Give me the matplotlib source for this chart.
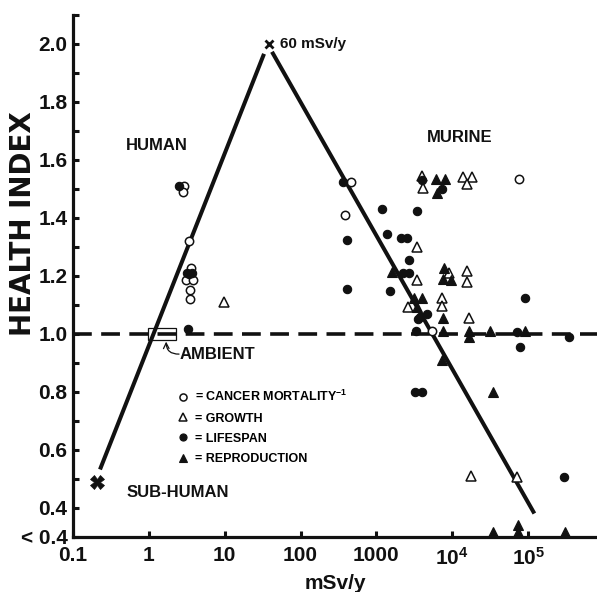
import matplotlib
matplotlib.use("Agg")
import matplotlib.pyplot as plt
from matplotlib.patches import Rectangle

plt.rcParams['font.family'] = ['Liberation Sans', 'DejaVu Sans']
plt.rcParams['font.weight'] = 'bold'
plt.rcParams['mathtext.fontset'] = 'custom'
for k in ['rm', 'it', 'bf', 'sf']:
    plt.rcParams['mathtext.' + k] = 'Liberation Sans:bold'
plt.rcParams['mathtext.default'] = 'rm'

# ---------------- data ----------------
cancer_x = [2.95, 2.8, 3.39, 3.6, 3.1, 3.83, 3.5, 3.5, 465, 387, 5450, 76600]
cancer_y = [1.51, 1.49, 1.32, 1.228, 1.185, 1.185, 1.15, 1.12, 1.524, 1.41, 1.01, 1.535]

growth_x = [9.8, 4020, 4150, 13960, 18400, 15800, 3450, 3450, 9100, 15800, 15800,
            2630, 7380, 7380, 16700, 17800, 72000]
growth_y = [1.111, 1.545, 1.503, 1.542, 1.542, 1.517, 1.30, 1.187, 1.211, 1.218, 1.178,
            1.093, 1.125, 1.097, 1.055, 0.51, 0.505]

lifespan_x = [2.5, 3.19, 3.71, 3.39, 3.29, 365, 4020, 7380, 1190, 3450, 412, 1390, 2120,
              2550, 2710, 2260, 2710, 412, 1520, 4680, 3780, 3560, 3350, 72000, 91800,
              78900, 3.5e5, 3250, 4020, 3.0e5]
lifespan_y = [1.51, 1.21, 1.21, 1.205, 1.017, 1.524, 1.531, 1.499, 1.432, 1.425, 1.323,
              1.344, 1.33, 1.33, 1.253, 1.211, 1.211, 1.156, 1.149, 1.069, 1.059, 1.052,
              1.01, 1.007, 1.125, 0.956, 0.99, 0.80, 0.80, 0.505]

repro_x = [6150, 8080, 6340, 1620, 7830, 7600, 9700, 3160, 4020, 3450, 7600, 7600, 16700,
           16700, 31000, 91800, 7380, 34800, 34800, 74300, 74300, 3.1e5]
repro_y = [1.535, 1.535, 1.485, 1.215, 1.228, 1.19, 1.187, 1.125, 1.125, 1.093, 1.055,
           1.01, 1.01, 0.99, 1.01, 1.01, 0.91, 0.80, 0.317, 0.34, 0.317, 0.317]

# fitted response lines
left_x = [0.227, 33]
left_y = [0.532, 1.966]
right_x = [42, 1.21e5]
right_y = [1.973, 0.38]
peak_x, peak_y = 38, 2.0
sub_x, sub_y = 0.207, 0.49
ambient_level = 1.0
amb_box_x = [0.976, 2.29]
amb_box_y = [0.98, 1.02]

xticks = [0.1, 1, 10, 100, 1000, 1e4, 1e5]
xticklabels = ['0.1', '1', '10', '100', '1000', r'10$^{4}$', r'10$^{5}$']
yticks = [0.3 + 0.1 * i for i in range(19)]
ylabels_map = {0.3: '< 0.4', 0.4: '0.4', 0.6: '0.6', 0.8: '0.8', 1.0: '1.0', 1.2: '1.2',
               1.4: '1.4', 1.6: '1.6', 1.8: '1.8', 2.0: '2.0'}

# ---------------- figure ----------------
W, H = 597, 592
fig = plt.figure(figsize=(W / 100, H / 100), dpi=100)
ax = fig.add_axes([73 / W, 55.3 / H, 524 / W, 521.7 / H])
ax.set_xscale('log')
ax.set_xlim(0.1, 8.1e5)
ax.set_ylim(0.3, 2.1)

K = '#111111'
ax.plot(left_x, left_y, color=K, lw=2.9, solid_capstyle='butt', zorder=2)
ax.plot(right_x, right_y, color=K, lw=2.9, solid_capstyle='butt', zorder=2)
ax.axhline(ambient_level, color=K, lw=2.6, dashes=(5.2, 2.6), zorder=2)

ax.plot([peak_x], [peak_y], marker='x', color=K, ms=6, mew=2, zorder=4)
ax.plot([sub_x], [sub_y], marker='X', color=K, ms=10, mew=0.5, zorder=4)

ax.add_patch(Rectangle((amb_box_x[0], amb_box_y[0]), amb_box_x[1] - amb_box_x[0],
                       amb_box_y[1] - amb_box_y[0], fill=True, facecolor='none',
                       edgecolor=K, lw=0.9, zorder=3))

ms_c = 6
ms_t = 7
h_c, = ax.plot(cancer_x, cancer_y, 'o', ms=ms_c, mfc='white', mec=K, mew=1.1,
               zorder=5, clip_on=False, label=r'= CANCER MORTALITY$^{-1}$')
h_g, = ax.plot(growth_x, growth_y, '^', ms=ms_t, mfc='white', mec=K, mew=1.1,
               zorder=5, clip_on=False, label='= GROWTH')
h_l, = ax.plot(lifespan_x, lifespan_y, 'o', ms=ms_c, mfc=K, mec=K, mew=0.8,
               zorder=5, clip_on=False, label='= LIFESPAN')
h_r, = ax.plot(repro_x, repro_y, '^', ms=ms_t, mfc=K, mec=K, mew=0.8,
               zorder=5, clip_on=False, label='= REPRODUCTION')

leg = ax.legend(handles=[h_c, h_g, h_l, h_r], loc='upper left',
                bbox_to_anchor=(0.201, 0.283), frameon=False, borderpad=0,
                borderaxespad=0, handlelength=0.7, handletextpad=0.65,
                labelspacing=0.66, markerscale=0.85, prop={'size': 9, 'weight': 'bold'})

# annotations
ax.text(1.28, 1.651, 'HUMAN', ha='center', va='center', fontsize=12, fontweight='bold', color=K)
ax.text(12360, 1.679, 'MURINE', ha='center', va='center', fontsize=12, fontweight='bold', color=K)
ax.text(2.43, 0.452, 'SUB-HUMAN', ha='center', va='center', fontsize=12, fontweight='bold', color=K)
ax.text(2.58, 0.928, 'AMBIENT', ha='left', va='center', fontsize=12, fontweight='bold', color=K)
ax.text(53.8, 2.0, '60 mSv/y', ha='left', va='center', fontsize=11, fontweight='bold', color=K)
ax.annotate('', xy=(1.69, 0.973), xytext=(2.5, 0.93),
            arrowprops=dict(arrowstyle='->', color=K, lw=0.9,
                            connectionstyle='arc3,rad=-0.5', shrinkA=0, shrinkB=0))

# axes styling
for s in ['top', 'right']:
    ax.spines[s].set_visible(False)
for s in ['left', 'bottom']:
    ax.spines[s].set_linewidth(2.3)
    ax.spines[s].set_color(K)

ax.set_xticks(xticks)
ax.set_xticklabels(xticklabels)
ax.xaxis.set_minor_locator(matplotlib.ticker.NullLocator())
ax.set_yticks(yticks)
ax.set_yticklabels([ylabels_map.get(round(v, 1), '') for v in yticks])
ax.tick_params(axis='both', direction='in', length=4.5, width=2.2, color=K,
               labelsize=15, labelcolor=K)
ax.tick_params(axis='x', pad=7)
ax.tick_params(axis='y', pad=4)
for lab in ax.get_xticklabels() + ax.get_yticklabels():
    lab.set_fontweight('bold')

ax.set_xlabel('mSv/y', fontsize=15, fontweight='bold', color=K, labelpad=4)
fig.text(23 / W, 1 - 224 / H, 'HEALTH INDEX', rotation=90, ha='center', va='center',
         fontsize=20, fontweight='bold', color=K, family='DejaVu Sans')

fig.savefig('out.png', dpi=100)
